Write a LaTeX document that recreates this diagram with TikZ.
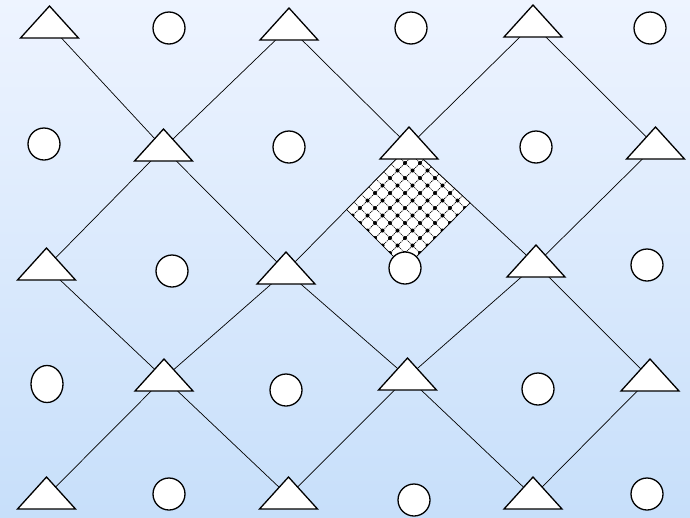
\documentclass[tikz,border=0pt]{standalone}
\usepackage{xcolor}
\usepackage{tikz}
\usetikzlibrary{shapes.geometric,calc}
\definecolor{skytop}{RGB}{238,244,255}
\definecolor{skybot}{RGB}{199,223,250}
\pgfdeclarelayer{bg}
\pgfdeclarelayer{links}
\pgfsetlayers{bg,links,main}
\begin{document}
\begin{tikzpicture}[
  x=1pt,y=-1pt,
  tri/.style={isosceles triangle,isosceles triangle stretches,shape border rotate=90,minimum width=58pt,minimum height=32pt,inner sep=0pt,outer sep=0pt,draw,line width=1.3pt,fill=white,anchor=lower side},
  ball/.style={circle,draw,line width=1.3pt,fill=white,minimum size=32pt,inner sep=0pt,outer sep=0pt},
  link/.style={line width=0.7pt,draw=black},
  mesh/.style={line width=0.7pt,draw=black,dash pattern=on 1.2pt off 0.8pt}
]
\begin{pgfonlayer}{bg}
\shade[top color=skytop,bottom color=skybot] (0,0) rectangle (690,517);
\end{pgfonlayer}
\useasboundingbox (0,0) rectangle (690,517);
\node[tri] (t00) at (49.5,38) {};
\node[tri] (t01) at (289,40) {};
\node[tri] (t02) at (533,37) {};
\node[tri] (t10) at (163.5,161) {};
\node[tri] (t11) at (409,159) {};
\node[tri] (t12) at (655.5,159) {};
\node[tri] (t20) at (46.5,280) {};
\node[tri] (t21) at (286,284) {};
\node[tri] (t22) at (536,277) {};
\node[tri] (t30) at (164,391) {};
\node[tri] (t31) at (407.5,390) {};
\node[tri] (t32) at (650,391) {};
\node[tri] (t40) at (46.5,509) {};
\node[tri] (t41) at (288.5,509) {};
\node[tri] (t42) at (533,509) {};
\node[ball] (c00) at (169,28) {};
\node[ball] (c01) at (411,28) {};
\node[ball] (c02) at (650,28) {};
\node[ball] (c10) at (44,144) {};
\node[ball] (c11) at (289,147) {};
\node[ball] (c12) at (536,147) {};
\node[ball] (c20) at (172,271) {};
\node[ball] (c21) at (405,268) {};
\node[ball] (c22) at (647,265) {};
\node[ball,ellipse,minimum width=32pt,minimum height=37pt] (c30) at (47,384) {};
\node[ball] (c31) at (286,390) {};
\node[ball] (c32) at (538,389) {};
\node[ball] (c40) at (169,494) {};
\node[ball] (c41) at (414,500) {};
\node[ball] (c42) at (647,494) {};
\coordinate (cl) at ($(c21)+(-90,-90)$);
\coordinate (cr) at ($(c21)+(90,-90)$);
\coordinate (dl) at (intersection of t21--t11 and c21--cl);
\coordinate (dr) at (intersection of t22--t11 and c21--cr);
\begin{pgfonlayer}{links}
\draw[link] (t00.center)--(t10.center);
\draw[link] (t10.center)--(t01.center);
\draw[link] (t01.center)--(t11.center);
\draw[link] (t11.center)--(t02.center);
\draw[link] (t02.center)--(t12.center);
\draw[link] (t10.center)--(t20.center);
\draw[link] (t10.center)--(t21.center);
\draw[link] (t11.center)--(t21.center);
\draw[link] (t11.center)--(t22.center);
\draw[link] (t12.center)--(t22.center);
\draw[link] (t20.center)--(t30.center);
\draw[link] (t21.center)--(t30.center);
\draw[link] (t21.center)--(t31.center);
\draw[link] (t22.center)--(t31.center);
\draw[link] (t22.center)--(t32.center);
\draw[link] (t30.center)--(t40.center);
\draw[link] (t30.center)--(t41.center);
\draw[link] (t31.center)--(t41.center);
\draw[link] (t31.center)--(t42.center);
\draw[link] (t32.center)--(t42.center);
\fill[white] (t11.center)--(dl)--(c21.center)--(dr)--cycle;
\begin{scope}
\clip (t11.center)--(dl)--(c21.center)--(dr)--cycle;
\foreach \k in {-10,...,10}{
  \draw[mesh] ($(c21)+(15*\k,0)+(-150,-150)$) -- ++(300,300);
  \draw[mesh] ($(c21)+(15*\k,0)+(-150,150)$) -- ++(300,-300);
}
\foreach \i in {-10,...,10}{
  \foreach \j in {-10,...,10}{
    \fill ($(c21)+(7.5*\i+7.5*\j,7.5*\j-7.5*\i)$) circle (2pt);
  }
}
\end{scope}
\draw[link] (t11.center)--(dl)--(c21.center)--(dr)--cycle;
\end{pgfonlayer}
\end{tikzpicture}
\end{document}
